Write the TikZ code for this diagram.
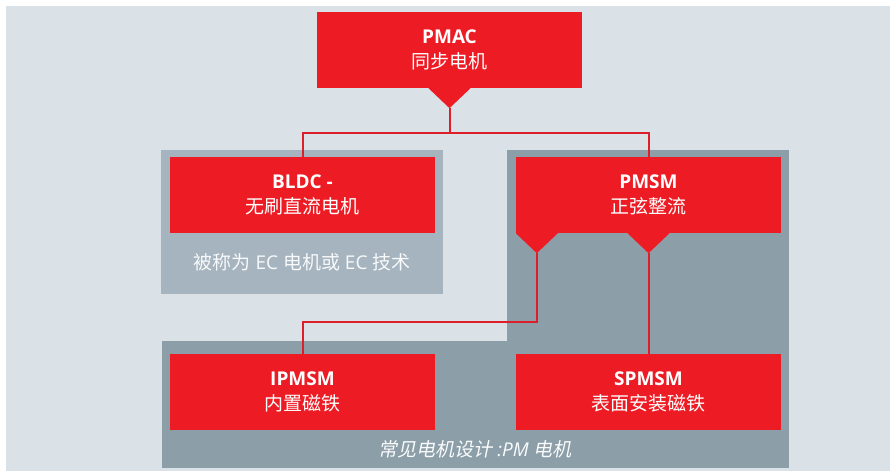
\documentclass[tikz,border=0pt]{standalone}
\usepackage{fontspec}
\setmainfont{Open Sans}
\newfontfamily\cjk{Noto Sans CJK SC}
\newfontfamily\cjkit[FakeSlant=0.2]{Noto Sans CJK SC}
\definecolor{bgcol}{HTML}{DAE2E8}
\definecolor{panellight}{HTML}{A5B4BE}
\definecolor{paneldark}{HTML}{8C9FA9}
\definecolor{boxred}{HTML}{ED1C24}
\definecolor{linkred}{HTML}{DC1F28}
\begin{document}
\begin{tikzpicture}[x=1pt, y=-1pt,
    every node/.style={inner sep=0pt, align=center, font=\fontsize{19}{25}\selectfont},
    box/.style={fill=boxred, text=white, minimum width=265pt, minimum height=76pt},
    link/.style={draw=linkred, line width=2pt}]
  \useasboundingbox (0,0) rectangle (890,472);
  \fill [bgcol] (6,6) rectangle (890,471);
  \fill [paneldark] (507,150) rectangle (789,468);
  \fill [paneldark] (162,341) rectangle (789,468);
  \fill [panellight] (161,150) rectangle (443,294);
  \node [box] (pmac) at (449.5,50) {\textbf{PMAC}\\{\cjk 同步电机}};
  \node [box] (bldc) at (302.5,195) {\textbf{BLDC -}\\{\cjk 无刷直流电机}};
  \node [box] (pmsm) at (648.5,195) {\textbf{PMSM}\\{\cjk 正弦整流}};
  \node [box] (ipmsm) at (302.5,392) {\textbf{IPMSM}\\{\cjk 内置磁铁}};
  \node [box] (spmsm) at (648.5,392) {\textbf{SPMSM}\\{\cjk 表面安装磁铁}};
  \fill [boxred] (pmac.south) ++(-21,0) -- ++(21,20) coordinate (pmactip) -- ++(21,-20) -- cycle;
  \fill [boxred] (pmsm.south west) -- ++(21,20) coordinate (pmsmtipa) -- ++(21,-20) -- cycle;
  \fill [boxred] (pmsm.south) ++(-21,0) -- ++(21,20) coordinate (pmsmtipb) -- ++(21,-20) -- cycle;
  \draw [link] (pmactip) -- ++(0,25) -| (bldc.north);
  \draw [link] (pmactip) -- ++(0,25) -| (pmsm.north);
  \draw [link] (pmsmtipa) -- ++(0,69) -| (ipmsm.north);
  \draw [link] (pmsmtipb) -- (spmsm.north);
  \node [text=white!94!paneldark] (ecnote) at (302,262) {{\cjk 被称为} EC {\cjk 电机或} EC {\cjk 技术}};
  \node [text=white!96!paneldark] (pmnote) at (475,449) {{\cjkit 常见电机设计} \textit{:PM} {\cjkit 电机}};
\end{tikzpicture}
\end{document}
